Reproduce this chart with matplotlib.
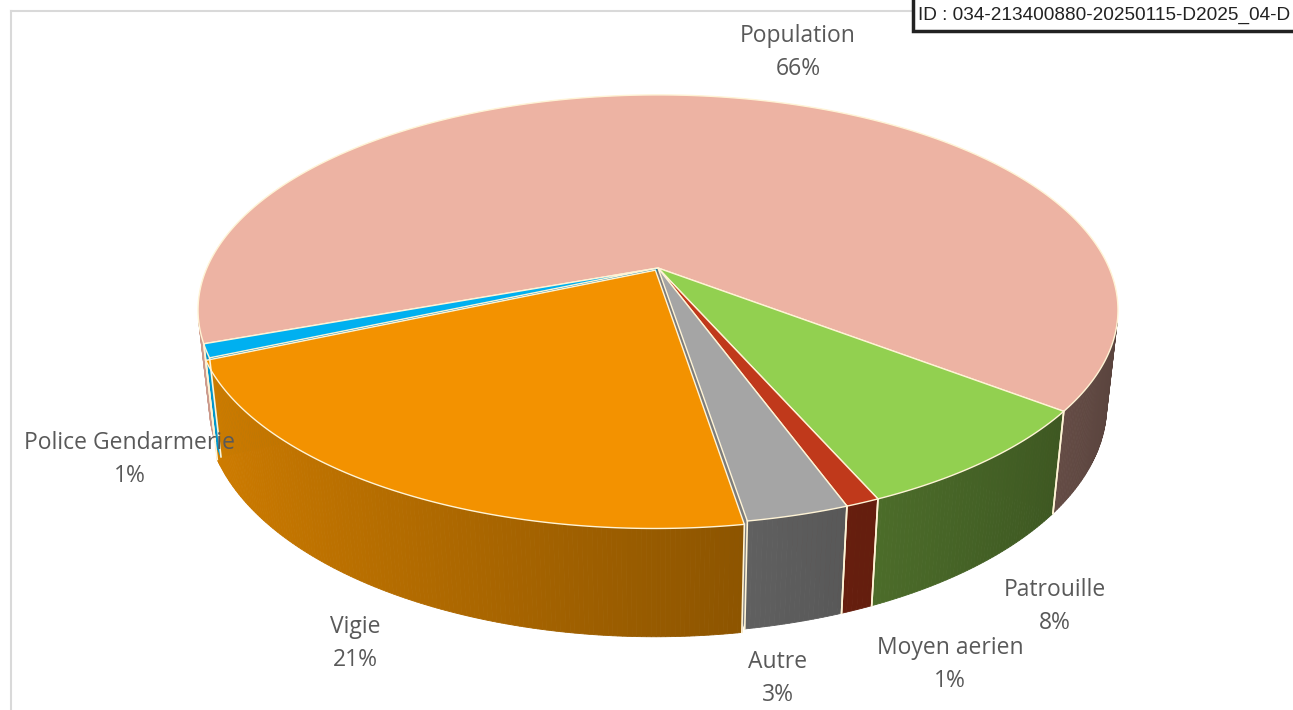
import matplotlib.pyplot as plt
import numpy as np
from matplotlib.patches import Polygon, Rectangle

# slice data, drawn clockwise starting from the left side
labels = ['Population', 'Patrouille', 'Moyen aerien', 'Autre', 'Vigie', 'Police Gendarmerie']
values = [66, 8, 1, 3, 21, 1]
colors = ['#EDB3A3', '#92D050', '#C0391B', '#A5A5A5', '#F39200', '#00B0F0']
explode = [0, 0, 0, 0, 0.012, 0]

# where each data label sits (name line centre, pixels)
label_pos = [(798, 36), (1055, 590), (950, 648), (778, 662), (355, 627), (130, 443)]

# camera for the 3D look
elev = np.radians(27.3)
dist = 4.551
focal = 2053
thick = 0.239
cx, cy = 658, 268
start = 200.0
cam = np.array([0.0, -dist * np.cos(elev), dist * np.sin(elev)])


def project(x, y, z):
    d = dist + y * np.cos(elev) - z * np.sin(elev)
    up = y * np.sin(elev) + z * np.cos(elev)
    return cx + focal * x / d, cy - focal * up / d


def shade(color, k):
    r, g, b = plt.matplotlib.colors.to_rgb(color)
    return (r * k, g * k, b * k)


def facing(normal, point):
    return np.dot(normal, cam - point) > 0


fig = plt.figure(figsize=(12.93, 7.1), dpi=100)
ax = fig.add_axes([0, 0, 1, 1])
ax.set_xlim(0, 1293)
ax.set_ylim(710, 0)
ax.axis('off')

edge = '#FFF4D6'
slices = []
acc = 0
for lab, v, col, ex in zip(labels, values, colors, explode):
    t1 = start - acc * 3.6
    t2 = t1 - v * 3.6
    acc += v
    mid = np.radians((t1 + t2) / 2)
    ox, oy = ex * np.cos(mid), ex * np.sin(mid)
    ts = np.radians(np.linspace(t1, t2, max(int(abs(t2 - t1) * 2), 3)))
    slices.append((col, ox, oy, ts))

# radial cut faces (only the ones seen through the gap of the pulled-out slice matter)
faces = []
for col, ox, oy, ts in slices:
    for t, sgn in ((ts[0], 1), (ts[-1], -1)):
        n = sgn * np.array([-np.sin(t), np.cos(t), 0])
        p = np.array([ox + 0.5 * np.cos(t), oy + 0.5 * np.sin(t), -thick / 2])
        if facing(n, p):
            pts = [project(ox, oy, 0), project(ox + np.cos(t), oy + np.sin(t), 0),
                   project(ox + np.cos(t), oy + np.sin(t), -thick), project(ox, oy, -thick)]
            depth = np.linalg.norm(cam - p)
            faces.append((depth, pts, shade(col, 0.75)))
for depth, pts, fc in sorted(faces, key=lambda f: -f[0]):
    ax.add_patch(Polygon(pts, closed=True, facecolor=fc, edgecolor=fc, lw=0.5))

# outer walls, darker towards the right
for col, ox, oy, ts in slices:
    for a, b in zip(ts[:-1], ts[1:]):
        m = (a + b) / 2
        n = np.array([np.cos(m), np.sin(m), 0])
        p = np.array([ox + np.cos(m), oy + np.sin(m), -thick / 2])
        if not facing(n, p):
            continue
        k = 0.62 - 0.25 * np.cos(m)
        pts = [project(ox + np.cos(a), oy + np.sin(a), 0), project(ox + np.cos(b), oy + np.sin(b), 0),
               project(ox + np.cos(b), oy + np.sin(b), -thick), project(ox + np.cos(a), oy + np.sin(a), -thick)]
        fc = shade(col, k)
        ax.add_patch(Polygon(pts, closed=True, facecolor=fc, edgecolor=fc, lw=0.6))
    for t in (ts[0], ts[-1]):
        p = np.array([ox + np.cos(t), oy + np.sin(t), -thick / 2])
        if facing(np.array([np.cos(t), np.sin(t), 0]), p):
            x0, y0 = project(ox + np.cos(t), oy + np.sin(t), 0)
            x1, y1 = project(ox + np.cos(t), oy + np.sin(t), -thick)
            ax.plot([x0, x1], [y0, y1], color=edge, lw=1.2)

# top faces
for col, ox, oy, ts in slices:
    pts = [project(ox, oy, 0)] + [project(ox + np.cos(t), oy + np.sin(t), 0) for t in ts]
    ax.add_patch(Polygon(pts, closed=True, facecolor=col, edgecolor=edge, lw=1.0))

# data labels
for lab, v, (lx, ly) in zip(labels, values, label_pos):
    ax.text(lx, ly, lab, ha='center', va='center', fontsize=16.5, color='#595959', family='Open Sans')
    ax.text(lx, ly + 33, f'{v}%', ha='center', va='center', fontsize=16.5, color='#595959', family='Open Sans')

# chart frame
ax.plot([10.5, 10.5], [710, 10.5], color='#D9D9D9', lw=1.5)
ax.plot([10.5, 1293], [10.5, 10.5], color='#D9D9D9', lw=1.5)

# identifier stamp
ax.add_patch(Rectangle((913, -10), 400, 41, facecolor='white', edgecolor='#222222', lw=2.5, zorder=5))
ax.text(918, 15, 'ID : 034-213400880-20250115-D2025_04-D', ha='left', va='center',
        fontsize=13.7, color='#222222', family='Liberation Sans', zorder=6)

fig.savefig('out.png', dpi=100)
